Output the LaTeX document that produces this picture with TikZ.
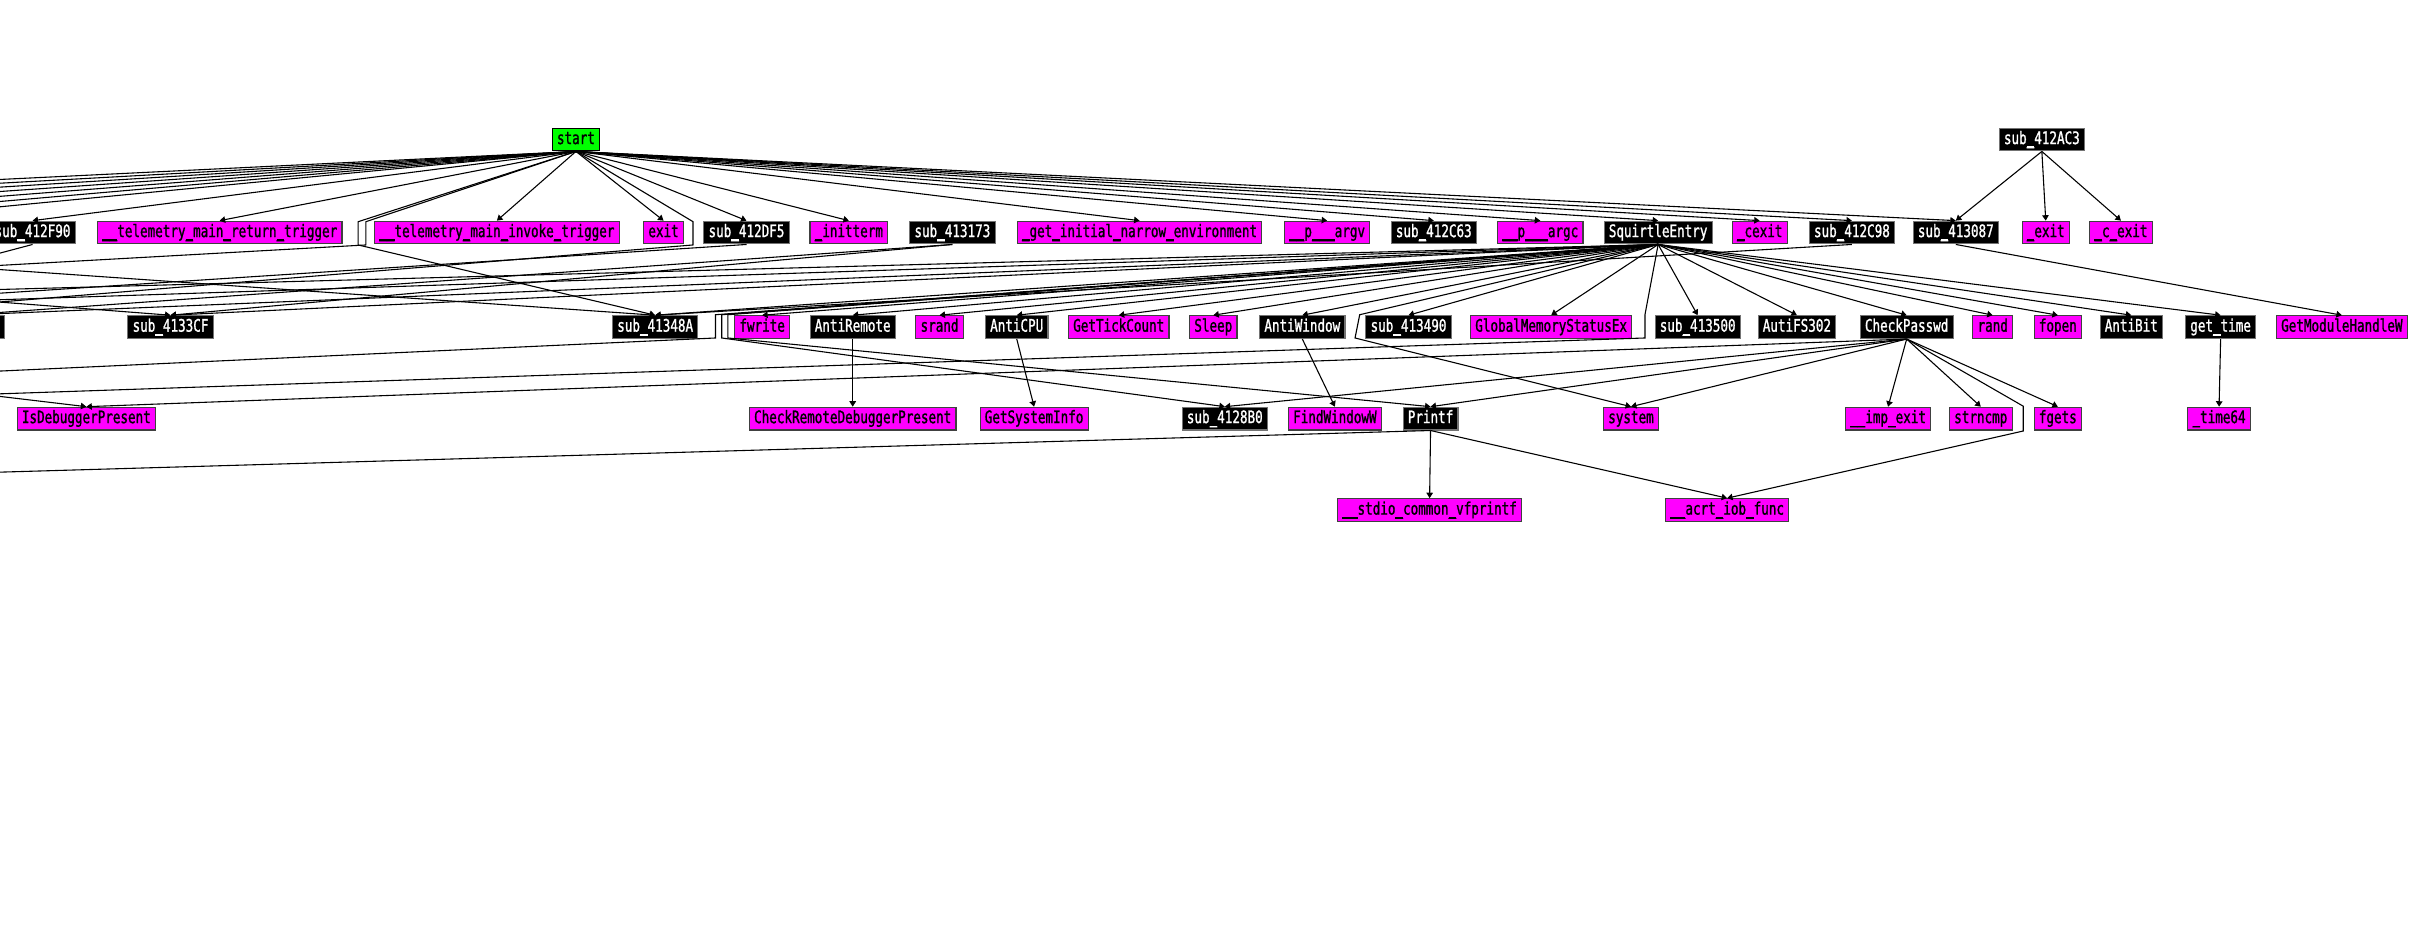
\documentclass[tikz,border=0pt]{standalone}
\usepackage{fontspec}
\newfontfamily\wgfont[FakeStretch=0.73, FakeBold=1.2]{DejaVu Sans Mono}
\usetikzlibrary{arrows.meta}
\definecolor{wgmag}{RGB}{255,0,255}
\definecolor{wggreen}{RGB}{0,255,0}
% underscore with a heavier stroke, as in the graph font
\newcommand\us{\rlap{\_}\rule[-2.3pt]{\fontcharwd\font`\_}{1pt}}

\begin{document}
\begin{tikzpicture}[x=0.03cm, y=-0.03cm,
  box/.style={draw, line width=0.6pt, inner xsep=2.6pt, inner ysep=0pt, minimum height=0.44cm,
    text height=7pt, text depth=2pt, font=\wgfont\fontsize{9.5}{10}\selectfont},
  fn/.style={box, fill=wgmag, draw=black!75, text=black},
  sb/.style={box, fill=black, draw=black!55, text=white},
  st/.style={box, fill=wggreen, draw=black, text=black},
  call/.style={line width=0.6pt, -{Triangle[width=3.6pt,length=3pt]}}]
  \useasboundingbox (0,0) rectangle (1568,600);
  \clip (0,0) rectangle (1568,600);

  % top row
  \node[st] (start) at (371.5,90) {start};
  \node[sb] (s412AC3) at (1317,90) {sub\us412AC3};

  % second row
  \node[sb] (s412F90) at (21,150) {sub\us412F90};
  \node[fn] (telret) at (141.7,150) {\us\us telemetry\us main\us return\us trigger};
  \node[fn] (telinv) at (320.5,150) {\us\us telemetry\us main\us invoke\us trigger};
  \node[fn] (exitfn) at (428,150) {exit};
  \node[sb] (s412DF5) at (481.5,150) {sub\us412DF5};
  \node[fn] (initterm) at (547.5,150) {\us initterm};
  \node[sb] (s413173) at (614.3,150) {sub\us413173};
  \node[fn] (getenv) at (735,150) {\us get\us initial\us narrow\us environment};
  \node[fn] (pargv) at (856,150) {\us\us p\us\us\us argv};
  \node[sb] (s412C63) at (924.8,150) {sub\us412C63};
  \node[fn] (pargc) at (993.5,150) {\us\us p\us\us\us argc};
  \node[sb] (squirtle) at (1069.5,150) {SquirtleEntry};
  \node[fn] (cexit) at (1135,150) {\us cexit};
  \node[sb] (s412C98) at (1194.5,150) {sub\us412C98};
  \node[sb] (s413087) at (1261.5,150) {sub\us413087};
  \node[fn] (uexit) at (1319.5,150) {\us exit};
  \node[fn] (cuexit) at (1368,150) {\us c\us exit};

  % third row
  \node[sb, minimum width=1.68cm] (cutC) at (-25,211) {};
  \node[sb] (s4133CF) at (110,211) {sub\us4133CF};
  \node[sb] (s41348A) at (422.6,211) {sub\us41348A};
  \node[fn] (fwrite) at (491.6,211) {fwrite};
  \node[sb] (antiremote) at (550,211) {AntiRemote};
  \node[fn] (srand) at (606,211) {srand};
  \node[sb] (anticpu) at (655.8,211) {AntiCPU};
  \node[fn] (gettick) at (721.6,211) {GetTickCount};
  \node[fn] (sleep) at (782.6,211) {Sleep};
  \node[sb] (antiwin) at (840,211) {AntiWindow};
  \node[sb] (s413490) at (908.5,211) {sub\us413490};
  \node[fn] (globmem) at (1000.5,211) {GlobalMemoryStatusEx};
  \node[sb] (s413500) at (1095,211) {sub\us413500};
  \node[sb] (autifs) at (1159,211) {AutiFS302};
  \node[sb] (checkpw) at (1229.8,211) {CheckPasswd};
  \node[fn] (rand) at (1285.3,211) {rand};
  \node[fn] (fopen) at (1327.3,211) {fopen};
  \node[sb] (antibit) at (1374.7,211) {AntiBit};
  \node[sb] (gettime) at (1432.3,211) {get\us time};
  \node[fn] (getmod) at (1510.5,211) {GetModuleHandleW};

  % fourth row
  \node[fn] (isdbg) at (55.7,270) {IsDebuggerPresent};
  \node[fn] (chkremote) at (550,270) {CheckRemoteDebuggerPresent};
  \node[fn] (getsys) at (667,270) {GetSystemInfo};
  \node[sb] (s4128B0) at (790,270) {sub\us4128B0};
  \node[fn] (findwin) at (861,270) {FindWindowW};
  \node[sb] (printf) at (922.7,270) {Printf};
  \node[fn] (system) at (1052,270) {system};
  \node[fn] (impexit) at (1217.8,270) {\us\us imp\us exit};
  \node[fn] (strncmp) at (1277.6,270) {strncmp};
  \node[fn] (fgets) at (1327.3,270) {fgets};
  \node[fn] (time64) at (1431.3,270) {\us time64};

  % fifth row
  \node[fn] (vfprintf) at (922.1,329) {\us\us stdio\us common\us vfprintf};
  \node[fn] (acrt) at (1114,329) {\us\us acrt\us iob\us func};

  % callers and callees outside the left side
  \coordinate (wb1) at (-100,143);
  \coordinate (wb2) at (-150,143);
  \coordinate (wb3) at (-210,143);
  \coordinate (wb4) at (-280,143);
  \coordinate (wb5) at (-360,143);
  \coordinate (wb6) at (-450,143);
  \coordinate (wb7) at (-560,143);
  \coordinate (wbout1) at (-480,158);
  \coordinate (wbout2) at (-228,158);
  \coordinate (wc1) at (-570,203);
  \coordinate (wc3) at (-100,203);
  \coordinate (wc4) at (-213,203);
  \coordinate (wc5) at (-290,203);
  \coordinate (wc6) at (-600,203);
  \coordinate (wc7) at (-150,203);
  \coordinate (wcout) at (-317,218);
  \coordinate (wd1) at (-490,262);
  \coordinate (wd2) at (-235,262);
  \coordinate (we1) at (-600,322);

  % start
  \draw[call] (start.south) -- (s412F90.north);
  \draw[call] (start.south) -- (telret.north);
  \draw[call] (start.south) -- (telinv.north);
  \draw[call] (start.south) -- (exitfn.north);
  \draw[call] (start.south) -- (s412DF5.north);
  \draw[call] (start.south) -- (initterm.north);
  \draw[call] (start.south) -- (getenv.north);
  \draw[call] (start.south) -- (pargv.north);
  \draw[call] (start.south) -- (s412C63.north);
  \draw[call] (start.south) -- (pargc.north);
  \draw[call] (start.south) -- (squirtle.north);
  \draw[call] (start.south) -- (cexit.north);
  \draw[call] (start.south) -- (s412C98.north);
  \draw[call] (start.south) -- (s413087.north);
  \draw[call] (start.south) -- (wb1);
  \draw[call] (start.south) -- (wb2);
  \draw[call] (start.south) -- (wb3);
  \draw[call] (start.south) -- (wb4);
  \draw[call] (start.south) -- (wb5);
  \draw[call] (start.south) -- (wb6);
  \draw[call] (start.south) -- (wb7);
  \draw[call] (start.south) -- (236,143) -- (236,158) -- (wc1);
  \draw[call] (start.south) -- (231,143) -- (231,158) -- (s41348A.north);
  \draw[call] (start.south) -- (447,143) -- (447,158) -- (wc3);

  % second row callers
  \draw[call] (s412F90.south) -- (wc7);
  \draw[call] (s412DF5.south) -- (wc4);
  \draw[call] (s413173.south) -- (cutC.north);
  \draw[call] (s413173.south) -- (s4133CF.north);
  \draw[call] (wbout1) -- (s4133CF.north);
  \draw[call] (wbout2) -- (s41348A.north);
  \draw[call] (s412C98.south) -- (s41348A.north);
  \draw[call] (s412AC3.south) -- (s413087.north);
  \draw[call] (s412AC3.south) -- (uexit.north);
  \draw[call] (s412AC3.south) -- (cuexit.north);
  \draw[call] (s413087.south) -- (getmod.north);

  % SquirtleEntry
  \draw[call] (squirtle.south) -- (fwrite.north);
  \draw[call] (squirtle.south) -- (antiremote.north);
  \draw[call] (squirtle.south) -- (srand.north);
  \draw[call] (squirtle.south) -- (anticpu.north);
  \draw[call] (squirtle.south) -- (gettick.north);
  \draw[call] (squirtle.south) -- (sleep.north);
  \draw[call] (squirtle.south) -- (antiwin.north);
  \draw[call] (squirtle.south) -- (s413490.north);
  \draw[call] (squirtle.south) -- (globmem.north);
  \draw[call] (squirtle.south) -- (s413500.north);
  \draw[call] (squirtle.south) -- (autifs.north);
  \draw[call] (squirtle.south) -- (checkpw.north);
  \draw[call] (squirtle.south) -- (rand.north);
  \draw[call] (squirtle.south) -- (fopen.north);
  \draw[call] (squirtle.south) -- (antibit.north);
  \draw[call] (squirtle.south) -- (gettime.north);
  \draw[call] (squirtle.south) -- (s41348A.north);
  \draw[call] (squirtle.south) -- (s4133CF.north);
  \draw[call] (squirtle.south) -- (cutC.north);
  \draw[call] (squirtle.south) -- (wc5);
  \draw[call] (squirtle.south) -- (wc6);
  \draw[call] (squirtle.south) -- (461.5,203) -- (461.5,218) -- (wd1);
  \draw[call] (squirtle.south) -- (465.5,203) -- (465.5,218) -- (s4128B0.north);
  \draw[call] (squirtle.south) -- (469.5,203) -- (469.5,218) -- (printf.north);
  \draw[call] (squirtle.south) -- (877,203) -- (874,218) -- (system.north);
  \draw[call] (squirtle.south) -- (1061,203) -- (1061,218) -- (wd2);

  % third row callers
  \draw[call] (wcout) -- (isdbg.north);
  \draw[call] (antiremote.south) -- (chkremote.north);
  \draw[call] (anticpu.south) -- (getsys.north);
  \draw[call] (antiwin.south) -- (findwin.north);
  \draw[call] (gettime.south) -- (time64.north);
  \draw[call] (checkpw.south) -- (impexit.north);
  \draw[call] (checkpw.south) -- (strncmp.north);
  \draw[call] (checkpw.south) -- (fgets.north);
  \draw[call] (checkpw.south) -- (system.north);
  \draw[call] (checkpw.south) -- (printf.north);
  \draw[call] (checkpw.south) -- (s4128B0.north);
  \draw[call] (checkpw.south) -- (isdbg.north);
  \draw[call] (checkpw.south) -- (1305,262) -- (1305,278) -- (acrt.north);

  % Printf
  \draw[call] (printf.south) -- (vfprintf.north);
  \draw[call] (printf.south) -- (acrt.north);
  \draw[call] (printf.south) -- (we1);
\end{tikzpicture}
\end{document}
